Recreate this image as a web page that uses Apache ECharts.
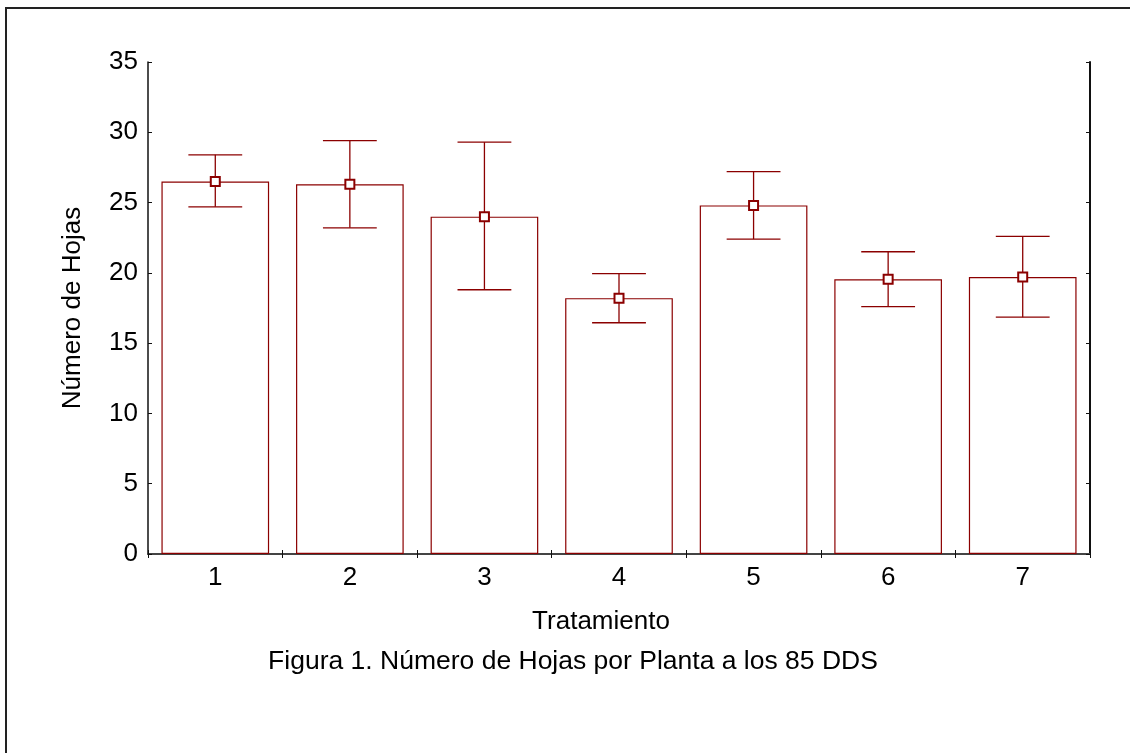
<!DOCTYPE html>
<html>
<head>
<meta charset="utf-8">
<script src="https://cdn.jsdelivr.net/npm/echarts@6/dist/echarts.min.js"></script>
<style>
html,body{margin:0;padding:0;background:#fff;}
#chart{width:1130px;height:753px;}
</style>
</head>
<body>
<div id="chart"></div>
<script>
var categories = ['1', '2', '3', '4', '5', '6', '7'];
var means = [26.5, 26.3, 24.0, 18.2, 24.8, 19.55, 19.7];
var upper = [28.4, 29.4, 29.3, 19.95, 27.2, 21.5, 22.6];
var lower = [24.7, 23.2, 18.8, 16.45, 22.4, 17.6, 16.85];
var yTicks = [0, 5, 10, 15, 20, 25, 30, 35];

var RED = '#8b0000';
var FONT = 'Liberation Sans, Arial, sans-serif';

var chart = echarts.init(document.getElementById('chart'));

var errData = categories.map(function (c, i) { return [i, lower[i], upper[i]]; });

var option = {
  backgroundColor: '#fff',
  animation: false,
  grid: { left: 148, top: 62, right: 40, bottom: 199, containLabel: false },
  xAxis: [
    {
      type: 'category',
      data: categories,
      position: 'bottom',
      axisLine: { lineStyle: { color: '#111', width: 1.5 } },
      axisTick: { show: true, inside: true, length: 4, lineStyle: { color: '#111' } },
      axisLabel: { fontSize: 26, fontFamily: FONT, color: '#000', margin: 11 }
    },
    {
      type: 'category',
      data: categories,
      position: 'top',
      axisLine: { lineStyle: { color: '#444', width: 2 } },
      axisTick: { show: true, inside: true, length: 4, lineStyle: { color: '#111' } },
      axisLabel: { show: false }
    }
  ],
  yAxis: [
    {
      type: 'value',
      min: 0, max: 35, interval: 5,
      position: 'left',
      name: 'Número de Hojas',
      nameLocation: 'middle',
      nameGap: 62,
      nameTextStyle: { fontSize: 26, fontFamily: FONT, color: '#000' },
      axisLine: { show: true, lineStyle: { color: '#111', width: 1.5 } },
      axisTick: { show: true, inside: true, length: 4, lineStyle: { color: '#111' } },
      axisLabel: {
        fontSize: 26, fontFamily: FONT, color: '#000', margin: 10,
        formatter: function (v) { return yTicks.indexOf(v) >= 0 ? String(v) : ''; }
      },
      splitLine: { show: false }
    },
    {
      type: 'value',
      min: 0, max: 35, interval: 5,
      position: 'right',
      axisLine: { show: true, lineStyle: { color: '#111', width: 2 } },
      axisTick: { show: true, inside: true, length: 4, lineStyle: { color: '#111' } },
      axisLabel: { show: false },
      splitLine: { show: false }
    }
  ],
  graphic: [
    {
      type: 'rect',
      shape: { x: 6, y: 8, width: 1300, height: 900 },
      style: { fill: null, stroke: '#222', lineWidth: 2 },
      silent: true
    },
    {
      type: 'text',
      x: 601, y: 622,
      style: { text: 'Tratamiento', fontSize: 26, fontFamily: FONT, fill: '#000', textAlign: 'center', textVerticalAlign: 'middle' }
    },
    {
      type: 'text',
      x: 573, y: 662,
      style: { text: 'Figura 1. Número de Hojas por Planta a los 85 DDS', fontSize: 26.5, fontFamily: FONT, fill: '#000', textAlign: 'center', textVerticalAlign: 'middle' }
    }
  ],
  series: [
    {
      type: 'bar',
      data: means,
      barWidth: '80%',
      itemStyle: { color: '#fff', borderColor: RED, borderWidth: 1.2 },
      z: 2
    },
    {
      type: 'custom',
      data: errData,
      z: 3,
      renderItem: function (params, api) {
        var x = api.value(0);
        var lo = api.coord([x, api.value(1)]);
        var hi = api.coord([x, api.value(2)]);
        var w = api.size([1, 0])[0] * 0.4;
        var st = { stroke: RED, lineWidth: 1.3, fill: null };
        return {
          type: 'group',
          children: [
            { type: 'line', shape: { x1: hi[0], y1: hi[1], x2: lo[0], y2: lo[1] }, style: st },
            { type: 'line', shape: { x1: hi[0] - w / 2, y1: hi[1], x2: hi[0] + w / 2, y2: hi[1] }, style: st },
            { type: 'line', shape: { x1: lo[0] - w / 2, y1: lo[1], x2: lo[0] + w / 2, y2: lo[1] }, style: st }
          ]
        };
      }
    },
    {
      type: 'scatter',
      data: means,
      symbol: 'rect',
      symbolSize: 9,
      itemStyle: { color: '#fff', borderColor: RED, borderWidth: 2, opacity: 1 },
      z: 5
    }
  ]
};
chart.setOption(option);
</script>
</body>
</html>
